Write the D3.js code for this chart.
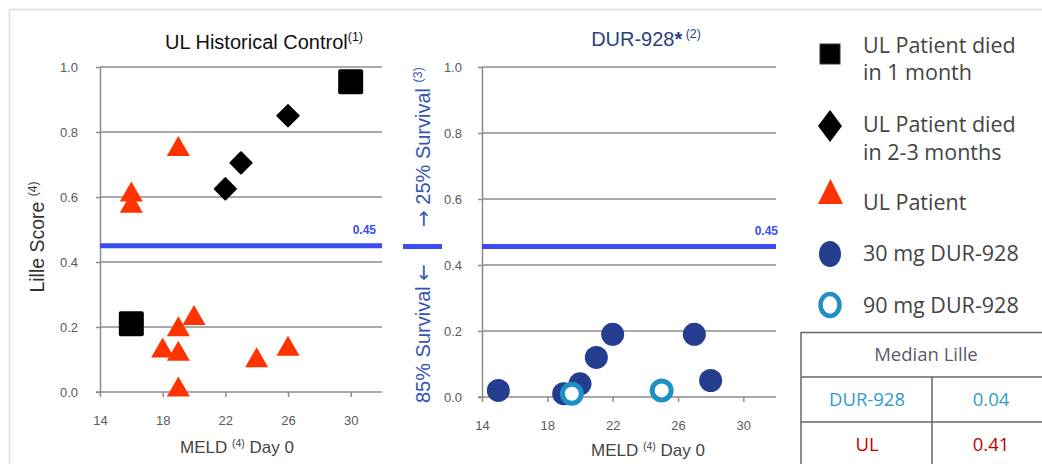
<!DOCTYPE html>
<html><head><meta charset="utf-8">
<script src="https://cdn.jsdelivr.net/npm/d3@7"></script>
<style>
body{margin:0;background:#fff;}
svg{display:block;}
</style></head>
<body>
<svg id="chart" width="1042" height="464"></svg>
<script>
// ---- data ----
const xTicks = [14, 18, 22, 26, 30];
const yTicks = [0, 0.2, 0.4, 0.6, 0.8, 1.0];
const threshold = 0.45;

const died1Meld = [16, 30];
const died1Lille = [0.21, 0.955];
const died23Meld = [22, 23, 26];
const died23Lille = [0.625, 0.705, 0.85];
const ulMeld = [16, 16, 19, 18, 19, 19, 19, 20, 24, 26];
const ulLille = [0.61, 0.575, 0.75, 0.13, 0.12, 0.195, 0.01, 0.23, 0.10, 0.135];

const dur30Meld = [15, 19, 20, 21, 22, 27, 28];
const dur30Lille = [0.02, 0.01, 0.04, 0.12, 0.19, 0.19, 0.05];
const dur90Meld = [19.5, 25];
const dur90Lille = [0.01, 0.02];

const legendLabels = [["UL Patient died", "in 1 month"], ["UL Patient died", "in 2-3 months"], ["UL Patient"], ["30 mg DUR-928"], ["90 mg DUR-928"]];
const tableHeader = "Median Lille";
const tableGroups = ["DUR-928", "UL"];
const tableMedians = ["0.04", "0.41"];

// ---- styles ----
const C = {grid:"#8c8c8c", tick:"#595959", thr:"#3d4cf2", black:"#000", ul:"#ff3300",
  d30:"#253d8f", d90:"#1e90c6", navy:"#2b3f80", annot:"#3555b0"};
const svg = d3.select("#chart");
const FONT = "Liberation Sans, Arial, sans-serif";

// frame lines
svg.append("line").attr("x1",9).attr("x2",1042).attr("y1",9.5).attr("y2",9.5).attr("stroke","#dcdcdc").attr("stroke-width",1.5);
svg.append("line").attr("x1",9.5).attr("x2",9.5).attr("y1",9).attr("y2",464).attr("stroke","#dcdcdc").attr("stroke-width",1.5);

function panel(cfg){
  const x = d3.scaleLinear().domain([14,32]).range([cfg.x0, cfg.x1]);
  const y = d3.scaleLinear().domain([0,1]).range([cfg.y0, cfg.y1]);
  const g = svg.append("g");
  g.selectAll("line.grid").data(yTicks.filter(d=>d>0)).enter().append("line")
    .attr("x1", cfg.x0).attr("x2", cfg.x1).attr("y1", d=>y(d)).attr("y2", d=>y(d))
    .attr("stroke", C.grid).attr("stroke-width",1.5);
  const ya = g.append("g").attr("transform",`translate(${cfg.x0},0)`)
    .call(d3.axisLeft(y).tickValues(yTicks).tickFormat(d3.format(".1f")).tickSize(4).tickSizeOuter(0).tickPadding(cfg.ypad));
  const xa = g.append("g").attr("transform",`translate(0,${cfg.y0})`)
    .call(d3.axisBottom(x).tickValues(xTicks).tickFormat(d3.format("d")).tickSize(5).tickSizeOuter(0).tickPadding(19));
  [ya, xa].forEach(a=>{
    a.select(".domain").attr("stroke", C.grid).attr("stroke-width",1.5);
    a.selectAll(".tick line").attr("stroke", C.grid).attr("stroke-width",1.5);
    a.selectAll(".tick text").attr("fill", C.tick).style("font-family", FONT).style("font-size","13px");
  });
  xa.select(".domain").attr("d", `M${cfg.x0-4},0H${cfg.x1}`);
  g.append("line").attr("x1", cfg.x0).attr("x2", cfg.x1).attr("y1", y(threshold)+cfg.thrOff).attr("y2", y(threshold)+cfg.thrOff)
    .attr("stroke", C.thr).attr("stroke-width",5);
  g.append("text").attr("x", cfg.thrLabelX).attr("y", y(threshold)+cfg.thrOff-12).attr("text-anchor","end")
    .attr("fill", C.thr).style("font-family", FONT).style("font-size","12px").style("font-weight","bold").text(d3.format(".2f")(threshold));
  return {x,y,g};
}

const L = panel({x0:100, x1:382, y0:392, y1:67, ypad:18, thrOff:0, thrLabelX:376});
const R = panel({x0:482, x1:776, y0:397, y1:67, ypad:16, thrOff:-2, thrLabelX:778});

// left markers
const tri = d3.symbol().type(d3.symbolTriangle).size(230);
L.g.selectAll("path.ul").data(ulMeld.map((m,i)=>[m, ulLille[i]])).enter().append("path")
  .attr("d", tri).attr("transform", d=>`translate(${L.x(d[0])},${L.y(d[1])+1})`).attr("fill", C.ul);
L.g.selectAll("rect.d1").data(died1Meld.map((m,i)=>[m, died1Lille[i]])).enter().append("rect")
  .attr("x", d=>L.x(d[0])-12.5).attr("y", d=>L.y(d[1])-12.5).attr("width",25).attr("height",25).attr("rx",2).attr("fill", C.black);
L.g.selectAll("rect.d23").data(died23Meld.map((m,i)=>[m, died23Lille[i]])).enter().append("rect")
  .attr("x",-8.5).attr("y",-8.5).attr("width",17).attr("height",17).attr("rx",1)
  .attr("transform", d=>`translate(${L.x(d[0])},${L.y(d[1])}) rotate(45)`).attr("fill", C.black);

// right markers
R.g.selectAll("circle.d30").data(dur30Meld.map((m,i)=>[m, dur30Lille[i]])).enter().append("circle")
  .attr("cx", d=>R.x(d[0])).attr("cy", d=>R.y(d[1])).attr("r",11.5).attr("fill", C.d30);
R.g.selectAll("circle.d90").data(dur90Meld.map((m,i)=>[m, dur90Lille[i]])).enter().append("circle")
  .attr("cx", d=>R.x(d[0])).attr("cy", d=>R.y(d[1])).attr("r",9.5).attr("fill","#fff").attr("stroke", C.d90).attr("stroke-width",5);

function supText(x, y, parts, anchor, color, size, rot){
  const t = svg.append("text").attr("text-anchor", anchor).attr("fill", color)
    .style("font-family", FONT).style("font-size", size+"px")
    .attr("transform", `translate(${x},${y})` + (rot? ` rotate(${rot})` : ""));
  parts.forEach(p=>{
    const s = t.append("tspan").text(p.t);
    if(p.sup){ s.style("font-size", (size*0.62)+"px").attr("dy", -size*0.38); }
    else if(p.after){ s.attr("dy", size*0.38); }
    if(p.bold) s.style("font-weight","bold");
    if(p.arrow) s.style("font-family","DejaVu Sans, sans-serif");
  });
  return t;
}
supText(264, 49, [{t:"UL Historical Control"},{t:"(1)", sup:true}], "middle", "#111", 20);
supText(646, 46, [{t:"DUR-928"},{t:"*", bold:true},{t:" (2)", sup:true}], "middle", C.navy, 20);
supText(44, 237, [{t:"Lille Score "},{t:"(4)", sup:true}], "middle", "#333", 19.5, -90);
supText(237, 453, [{t:"MELD "},{t:"(4)", sup:true},{t:" Day 0", after:true}], "middle", "#444", 17);
supText(648, 456, [{t:"MELD "},{t:"(4)", sup:true},{t:" Day 0", after:true}], "middle", "#444", 17);

// middle annotation
supText(430, 227, [{t:"→", arrow:true},{t:" 25% Survival "},{t:"(3)", sup:true}], "start", C.annot, 20, -90);
supText(430, 403, [{t:"85% Survival  "},{t:"←", arrow:true}], "start", C.annot, 20, -90);
svg.append("line").attr("x1",403).attr("x2",442).attr("y1",246.5).attr("y2",246.5).attr("stroke", C.thr).attr("stroke-width",5);

// legend
const LF = "Open Sans, Noto Sans, sans-serif";
const legY = [[45,72],[124,152],[202],[253],[305]];
const lg = svg.append("g");
lg.append("rect").attr("x",820).attr("y",44).attr("width",20).attr("height",20).attr("fill",C.black).attr("stroke","#333").attr("stroke-width",1);
lg.append("path").attr("d","M830,110 L842,126 L830,142 L818,126 Z").attr("fill",C.black);
lg.append("path").attr("d","M830.5,179 L843,204 L818,204 Z").attr("fill",C.ul);
lg.append("ellipse").attr("cx",830).attr("cy",254).attr("rx",11).attr("ry",13).attr("fill",C.d30);
lg.append("ellipse").attr("cx",830).attr("cy",305).attr("rx",9.5).attr("ry",11).attr("fill","#fff").attr("stroke",C.d90).attr("stroke-width",4.5);
legendLabels.forEach((lines,i)=>{
  lines.forEach((s,j)=>{
    lg.append("text").attr("x",863).attr("y",legY[i][j]).attr("dy","0.35em").attr("fill","#444")
      .style("font-family",LF).style("font-size","21.5px").text(s);
  });
});

// table
const TF = "Open Sans, Noto Sans, sans-serif";
const tb = svg.append("g").attr("stroke","#666").attr("stroke-width",1.5);
tb.append("line").attr("x1",801).attr("x2",1042).attr("y1",332.5).attr("y2",332.5);
tb.append("line").attr("x1",801).attr("x2",1042).attr("y1",377).attr("y2",377);
tb.append("line").attr("x1",801).attr("x2",1042).attr("y1",422).attr("y2",422);
tb.append("line").attr("x1",801).attr("x2",801).attr("y1",332).attr("y2",464);
tb.append("line").attr("x1",932).attr("x2",932).attr("y1",377).attr("y2",464);
const tcol = ["#2e9bd0", "#c00000"];
svg.append("text").attr("x",926).attr("y",355).attr("dy","0.35em").attr("text-anchor","middle").attr("fill","#5a5a6a")
  .style("font-family",TF).style("font-size","18.5px").text(tableHeader);
tableGroups.forEach((gname,i)=>{
  const yy = 400 + i*45;
  svg.append("text").attr("x",867).attr("y",yy).attr("dy","0.35em").attr("text-anchor","middle").attr("fill",tcol[i])
    .style("font-family",TF).style("font-size","18.5px").text(gname);
  svg.append("text").attr("x",991).attr("y",yy).attr("dy","0.35em").attr("text-anchor","middle").attr("fill",tcol[i])
    .style("font-family",TF).style("font-size","18.5px").text(tableMedians[i]);
});
</script>
</body></html>
